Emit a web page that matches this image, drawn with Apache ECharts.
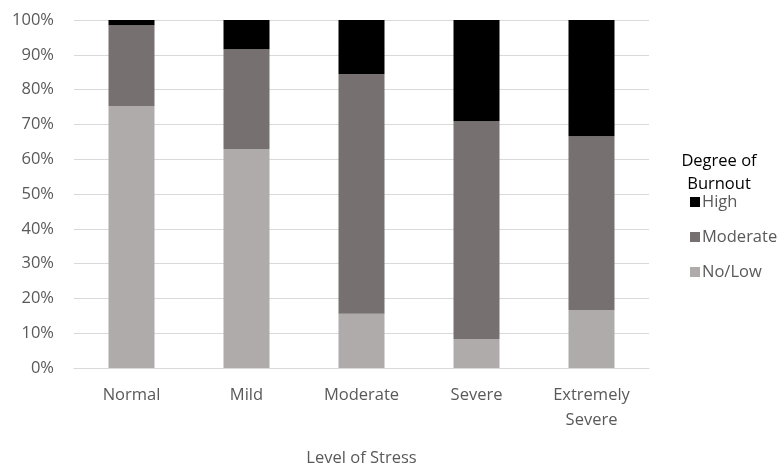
<!DOCTYPE html>
<html><head><meta charset="utf-8">
<script src="https://cdn.jsdelivr.net/npm/echarts@6/dist/echarts.min.js"></script>
<style>html,body{margin:0;padding:0;background:#fff}#c{width:784px;height:464px}</style>
</head><body><div id="c"></div>
<script>
const categories = ['Normal', 'Mild', 'Moderate', 'Severe', 'Extremely\nSevere'];
const noLow = [75.3, 62.9, 15.6, 8.3, 16.6];
const moderate = [23.2, 28.7, 68.9, 62.6, 50.0];
const high = [1.5, 8.4, 15.5, 29.1, 33.4];
const yTicks = [0, 10, 20, 30, 40, 50, 60, 70, 80, 90, 100];

const font = "'Open Sans', 'Noto Sans', sans-serif";
const chart = echarts.init(document.getElementById('c'));
chart.setOption({
  animation: false,
  textStyle: { fontFamily: font },
  grid: { left: 74, right: 135, top: 20, bottom: 96, containLabel: false, outerBoundsMode: 'none' },
  xAxis: {
    type: 'category', data: categories,
    axisLine: { lineStyle: { color: '#D9D9D9' } },
    axisTick: { show: false },
    axisLabel: { color: '#595959', fontSize: 16.5, fontFamily: font, margin: 15, lineHeight: 25 },
    name: 'Level of Stress', nameLocation: 'middle', nameGap: 82,
    nameTextStyle: { color: '#595959', fontSize: 16.5, fontFamily: font }
  },
  yAxis: {
    type: 'value', min: yTicks[0], max: yTicks[yTicks.length - 1], interval: 10,
    axisLine: { show: false }, axisTick: { show: false },
    splitLine: { lineStyle: { color: '#D9D9D9' } },
    axisLabel: { color: '#595959', fontSize: 16.5, fontFamily: font, margin: 20, formatter: v => v + '%' }
  },
  legend: {
    orient: 'vertical', left: 685, top: 187, itemGap: 15, itemWidth: 10, itemHeight: 10,
    icon: 'rect',
    data: ['High', 'Moderate', 'No/Low'],
    textStyle: { color: '#595959', fontSize: 16.5, fontFamily: font, lineHeight: 20, padding: [0, 0, 0, -3] }
  },
  graphic: [{
    type: 'text', x: 719, y: 150,
    style: { text: 'Degree of\nBurnout', fill: '#000', fontSize: 16.5, fontFamily: font, textAlign: 'center', lineHeight: 23 }
  }],
  series: [
    { name: 'No/Low', type: 'bar', stack: 's', data: noLow, barWidth: '40%', itemStyle: { color: '#AFABAB' } },
    { name: 'Moderate', type: 'bar', stack: 's', data: moderate, itemStyle: { color: '#767170' } },
    { name: 'High', type: 'bar', stack: 's', data: high, itemStyle: { color: '#000000' } }
  ]
});
</script></body></html>
